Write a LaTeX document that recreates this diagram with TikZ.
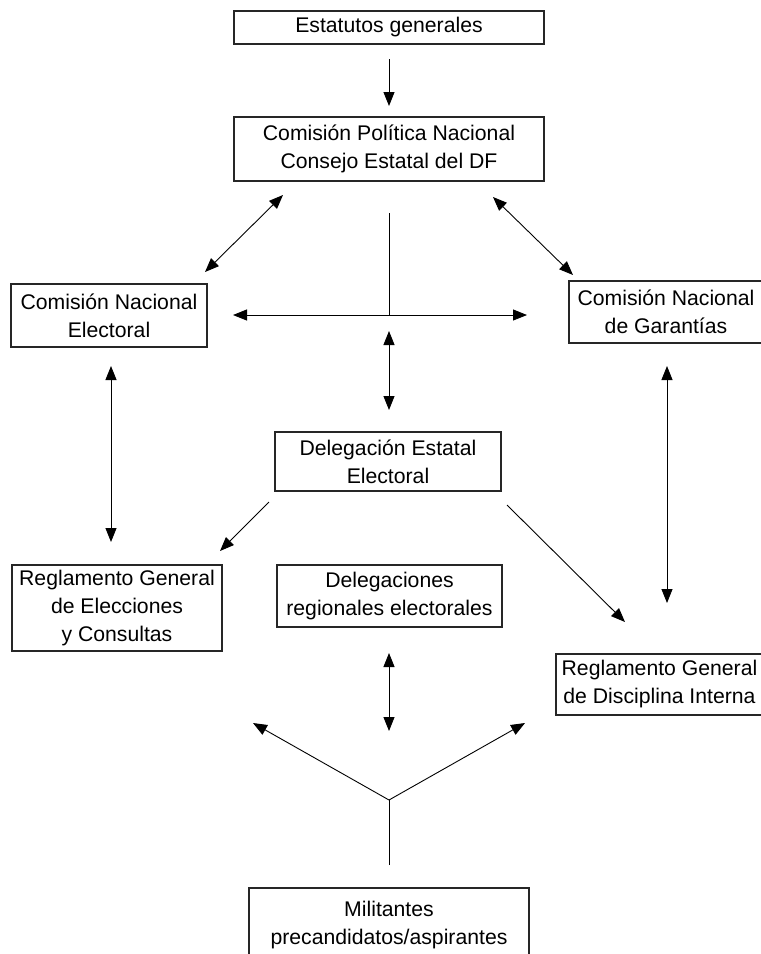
\documentclass[tikz,border=0pt]{standalone}
\usepackage{fontspec}
\setmainfont{Liberation Sans}
\usetikzlibrary{arrows.meta}
\begin{document}
\begin{tikzpicture}[x=0.5pt,y=-0.5pt,
  box/.style={draw=black!85, line width=0.6pt, align=center, inner sep=0pt,
    font=\fontsize{10.6}{14}\selectfont},
  conn/.style={line width=0.45pt, draw=black},
  onetip/.style={conn, -{Triangle[length=7pt,width=5.5pt]}},
  twotip/.style={conn, {Triangle[length=7pt,width=5.5pt]}-{Triangle[length=7pt,width=5.5pt]}}]
\useasboundingbox (0,0) rectangle (761,954);
% boxes
\node[box, minimum width=155pt, minimum height=16.5pt] (est) at (389,27.5) {Estatutos generales};
\node[box, minimum width=155pt, minimum height=32pt] (cpn) at (389,149) {Comisión Política Nacional\\Consejo Estatal del DF};
\node[box, minimum width=98pt, minimum height=31.5pt] (cne) at (109,315.5) {Comisión Nacional\\Electoral};
\node[box, minimum width=97pt, minimum height=31pt] (cng) at (666,312) {Comisión Nacional\\de Garantías};
\node[box, minimum width=113pt, minimum height=29.5pt] (dee) at (388,461.5) {Delegación Estatal\\Electoral};
\node[box, minimum width=105pt, minimum height=43pt] (rge) at (117,608) {Reglamento General\\de Elecciones\\y Consultas};
\node[box, minimum width=112.5pt, minimum height=31pt] (drl) at (389.5,596) {Delegaciones\\regionales electorales};
\node[box, minimum width=103.5pt, minimum height=30.5pt] (rgd) at (659.5,684.5) {Reglamento General\\de Disciplina Interna};
\node[box, minimum width=140pt, minimum height=37pt] (mil) at (389,925) {Militantes\\precandidatos/aspirantes};
% connector end points
\coordinate (estB) at (389,59);
\coordinate (cpnT) at (389,106);
\coordinate (cpnL) at (283,195);
\coordinate (cneR) at (205,272);
\coordinate (cpnR) at (493,197);
\coordinate (cngL) at (573,275);
\coordinate (stemTop) at (389,213);
\coordinate (hub) at (389,315);
\coordinate (hubL) at (233,315);
\coordinate (hubR) at (527,315);
\coordinate (deeA) at (389,331);
\coordinate (deeT) at (389,410);
\coordinate (cneB) at (111,366);
\coordinate (rgeT) at (111,542);
\coordinate (cngB) at (667,366);
\coordinate (rgdT) at (667,603);
\coordinate (deeL) at (269,502);
\coordinate (rgeR) at (220,551);
\coordinate (deeR) at (507,505);
\coordinate (rgdL) at (625,622);
\coordinate (drlB) at (389,653);
\coordinate (forkT) at (389,731);
\coordinate (milT) at (389,865);
\coordinate (fork) at (389,800);
\coordinate (forkL) at (253,723);
\coordinate (forkR) at (525,723);
% connectors
\draw[onetip] (estB) -- (cpnT);
\draw[twotip] (cpnL) -- (cneR);
\draw[twotip] (cpnR) -- (cngL);
\draw[conn] (stemTop) -- (hub);
\draw[twotip] (hubL) -- (hubR);
\draw[twotip] (deeA) -- (deeT);
\draw[twotip] (cneB) -- (rgeT);
\draw[twotip] (cngB) -- (rgdT);
\draw[onetip] (deeL) -- (rgeR);
\draw[onetip] (deeR) -- (rgdL);
\draw[twotip] (drlB) -- (forkT);
\draw[conn] (milT) -- (fork);
\draw[onetip] (fork) -- (forkL);
\draw[onetip] (fork) -- (forkR);
\end{tikzpicture}
\end{document}
